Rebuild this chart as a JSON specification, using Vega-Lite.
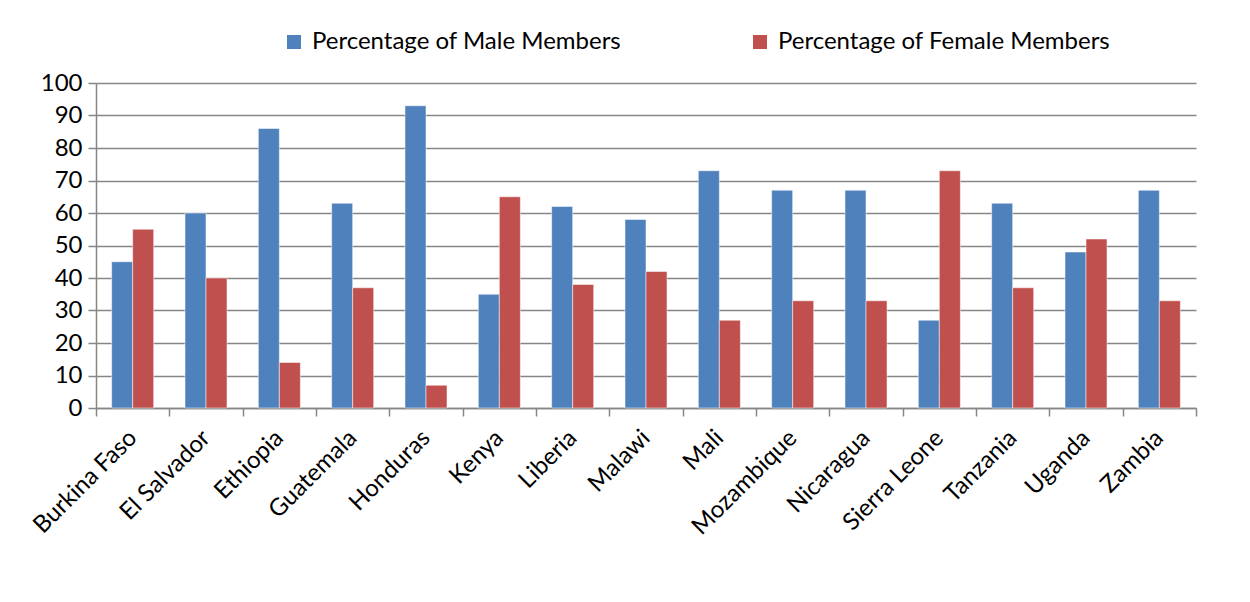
{
  "$schema": "https://vega.github.io/schema/vega-lite/v6.json",
  "autosize": {"type": "none"},
  "width": 1100,
  "height": 325,
  "padding": {"left": 96, "top": 83, "right": 54, "bottom": 194},
  "background": "white",
  "config": {
    "font": "Lato",
    "view": {"stroke": null}
  },
  "data": {
    "values": [
      {"country": "Burkina Faso", "gender": "Percentage of Male Members", "pct": 45},
      {"country": "Burkina Faso", "gender": "Percentage of Female Members", "pct": 55},
      {"country": "El Salvador", "gender": "Percentage of Male Members", "pct": 60},
      {"country": "El Salvador", "gender": "Percentage of Female Members", "pct": 40},
      {"country": "Ethiopia", "gender": "Percentage of Male Members", "pct": 86},
      {"country": "Ethiopia", "gender": "Percentage of Female Members", "pct": 14},
      {"country": "Guatemala", "gender": "Percentage of Male Members", "pct": 63},
      {"country": "Guatemala", "gender": "Percentage of Female Members", "pct": 37},
      {"country": "Honduras", "gender": "Percentage of Male Members", "pct": 93},
      {"country": "Honduras", "gender": "Percentage of Female Members", "pct": 7},
      {"country": "Kenya", "gender": "Percentage of Male Members", "pct": 35},
      {"country": "Kenya", "gender": "Percentage of Female Members", "pct": 65},
      {"country": "Liberia", "gender": "Percentage of Male Members", "pct": 62},
      {"country": "Liberia", "gender": "Percentage of Female Members", "pct": 38},
      {"country": "Malawi", "gender": "Percentage of Male Members", "pct": 58},
      {"country": "Malawi", "gender": "Percentage of Female Members", "pct": 42},
      {"country": "Mali", "gender": "Percentage of Male Members", "pct": 73},
      {"country": "Mali", "gender": "Percentage of Female Members", "pct": 27},
      {"country": "Mozambique", "gender": "Percentage of Male Members", "pct": 67},
      {"country": "Mozambique", "gender": "Percentage of Female Members", "pct": 33},
      {"country": "Nicaragua", "gender": "Percentage of Male Members", "pct": 67},
      {"country": "Nicaragua", "gender": "Percentage of Female Members", "pct": 33},
      {"country": "Sierra Leone", "gender": "Percentage of Male Members", "pct": 27},
      {"country": "Sierra Leone", "gender": "Percentage of Female Members", "pct": 73},
      {"country": "Tanzania", "gender": "Percentage of Male Members", "pct": 63},
      {"country": "Tanzania", "gender": "Percentage of Female Members", "pct": 37},
      {"country": "Uganda", "gender": "Percentage of Male Members", "pct": 48},
      {"country": "Uganda", "gender": "Percentage of Female Members", "pct": 52},
      {"country": "Zambia", "gender": "Percentage of Male Members", "pct": 67},
      {"country": "Zambia", "gender": "Percentage of Female Members", "pct": 33}
    ]
  },
  "mark": {"type": "bar", "stroke": "white", "strokeWidth": 0.5},
  "encoding": {
    "x": {
      "field": "country",
      "type": "nominal",
      "sort": null,
      "scale": {"paddingInner": 0, "paddingOuter": 0},
      "axis": {
        "title": null,
        "labelAngle": -45,
        "labelAlign": "right",
        "labelBaseline": "middle",
        "labelFontSize": 24,
        "labelColor": "black",
        "labelPadding": 18,
        "tickBand": "extent",
        "tickSize": 8,
        "tickColor": "#868686",
        "domainColor": "#868686",
        "domainWidth": 1.5,
        "tickWidth": 1.5,
        "labelOverlap": false
      }
    },
    "xOffset": {
      "field": "gender",
      "type": "nominal",
      "sort": ["Percentage of Male Members", "Percentage of Female Members"],
      "scale": {"paddingInner": 0, "paddingOuter": 0.745}
    },
    "y": {
      "field": "pct",
      "type": "quantitative",
      "scale": {"domain": [0, 100], "nice": false},
      "axis": {
        "title": null,
        "values": [0, 10, 20, 30, 40, 50, 60, 70, 80, 90, 100],
        "labelOverlap": false,
        "labelFontSize": 24,
        "labelColor": "black",
        "labelPadding": 6,
        "tickSize": 8,
        "tickColor": "#868686",
        "domainColor": "#868686",
        "domainWidth": 1.5,
        "tickWidth": 1.5,
        "gridColor": "#868686",
        "gridWidth": 1.5
      }
    },
    "color": {
      "field": "gender",
      "type": "nominal",
      "scale": {
        "domain": ["Percentage of Male Members", "Percentage of Female Members"],
        "range": ["#4F81BD", "#C0504D"]
      },
      "legend": {
        "title": null,
        "orient": "none",
        "direction": "horizontal",
        "legendX": 186,
        "legendY": -53,
        "symbolType": "square",
        "symbolSize": 196,
        "symbolStrokeWidth": 0,
        "symbolOpacity": 1,
        "labelFontSize": 24,
        "labelColor": "black",
        "labelOffset": 6,
        "columnPadding": 126,
        "labelLimit": 400
      }
    }
  }
}
